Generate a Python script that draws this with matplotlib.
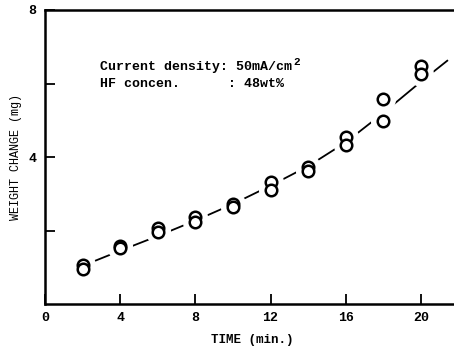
import matplotlib
matplotlib.use("Agg")
import matplotlib.pyplot as plt

# measured points (two runs at each time)
time_pts = [2, 2, 4, 4, 6, 6, 8, 8, 10, 10, 12, 12, 14, 14, 16, 16, 18, 18, 20, 20]
weight_pts = [1.06, 0.94, 1.58, 1.52, 2.07, 1.96, 2.37, 2.24, 2.72, 2.64,
              3.32, 3.10, 3.73, 3.61, 4.55, 4.32, 5.59, 4.98, 6.48, 6.27]

# fitted curve
curve_t = [2.2, 4, 6, 8, 10, 12, 14, 16, 18, 20, 21.4]
curve_w = [1.08, 1.45, 1.85, 2.27, 2.72, 3.22, 3.75, 4.40, 5.20, 6.05, 6.62]

x_ticks = [0, 4, 8, 12, 16, 20]
y_ticks = [2, 4, 6, 8]
y_tick_labels = ["", "4", "", "8"]

font = "Liberation Mono"

fig = plt.figure(figsize=(4.54, 3.52), dpi=100)
ax = fig.add_axes([45/454, 48/352, 1 - 45/454 + 0.01, 294/352])

ax.plot(curve_t, curve_w, color="black", lw=1.3, zorder=1)
# white halo around markers creates the broken-line look
ax.plot(time_pts, weight_pts, linestyle="none", marker="o", ms=17,
        mfc="white", mec="white", zorder=2)
ax.plot(time_pts, weight_pts, linestyle="none", marker="o", ms=8.3,
        mfc="white", mec="black", mew=1.8, zorder=3)

ax.set_xlim(0, 22)
ax.set_ylim(0, 8)
ax.set_xticks(x_ticks)
ax.set_xticklabels([str(v) for v in x_ticks], fontfamily=font, fontsize=9.5, fontweight="bold")
ax.set_yticks(y_ticks)
ax.set_yticklabels(y_tick_labels, fontfamily=font, fontsize=9.5, fontweight="bold")
ax.tick_params(direction="in", length=7, width=1.3, pad=6)

for s in ["left", "bottom", "top"]:
    ax.spines[s].set_linewidth(1.8)
ax.spines["right"].set_visible(False)

ax.set_xlabel("TIME (min.)", fontfamily=font, fontsize=9, fontweight="bold", labelpad=7)
ax.set_ylabel("WEIGHT CHANGE (mg)", fontfamily=font, fontsize=8.5, labelpad=5)

t1 = ax.text(2.9, 6.45, "Current density: 50mA/cm", fontfamily=font, fontsize=9.5,
             fontweight="bold", va="center", ha="left")
ax.annotate("2", xy=(1, 1), xycoords=t1, xytext=(1, -4), textcoords="offset points",
            fontfamily=font, fontsize=8, fontweight="bold", va="bottom", ha="left")
ax.text(2.9, 5.98, "HF concen.      : 48wt%", fontfamily=font, fontsize=9.5,
        fontweight="bold", va="center", ha="left")

fig.savefig("out.png", dpi=100)
